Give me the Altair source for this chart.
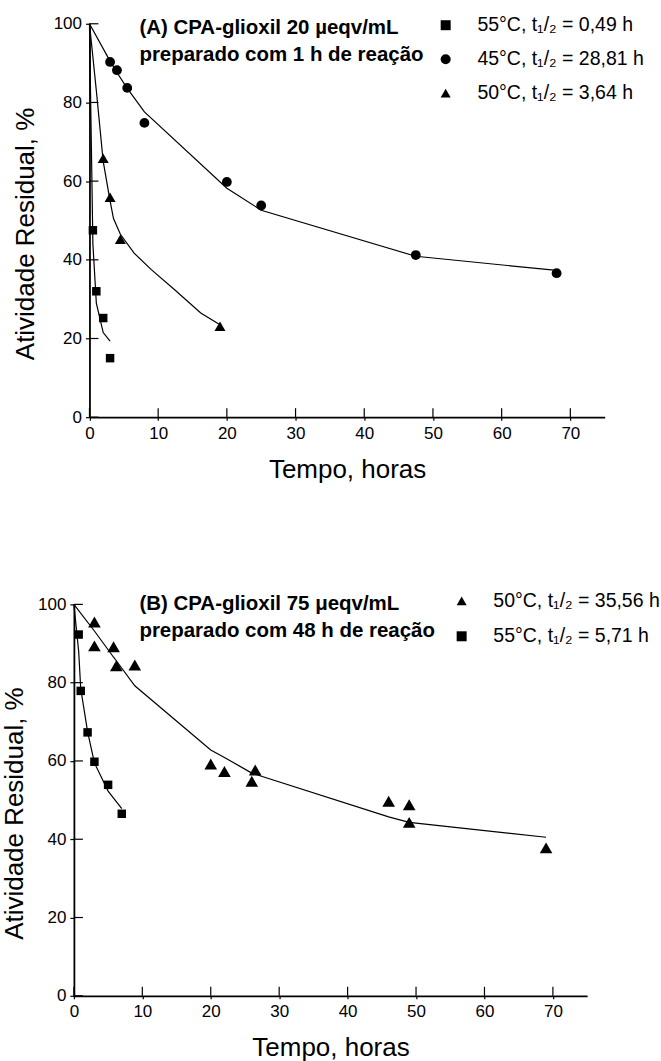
import altair as alt
import pandas as pd

FONT = "Liberation Sans, Arial, Helvetica, sans-serif"

# ---------------- Panel A data ----------------
A_LABELS = ["55°C, t₁/₂ = 0,49 h", "45°C, t₁/₂ = 28,81 h", "50°C, t₁/₂ = 3,64 h"]
A_SHAPES = ["square", "circle", "triangle-up"]
A_TITLE = ["(A) CPA-glioxil 20 µeqv/mL", "preparado com 1 h de reação"]

A55_T = [0.5, 1, 2, 3]
A55_V = [47.5, 32.0, 25.2, 15.0]
A45_T = [3, 4, 5.5, 8, 20, 25, 47.5, 68]
A45_V = [90.3, 88.2, 83.7, 74.8, 59.8, 53.8, 41.2, 36.6]
A50_T = [2, 3, 4.5, 19]
A50_V = [65.8, 55.9, 45.2, 23.1]

A55_FIT_T = [0, 0.5, 1, 2, 3]
A55_FIT_V = [100, 44, 29, 21.5, 19.3]
A45_FIT_T = [0, 3, 4, 5.5, 8, 20, 25, 47.5, 68]
A45_FIT_V = [100, 90.5, 87.6, 83.6, 77.6, 58.2, 52.6, 40.9, 37.3]
A50_FIT_T = [0, 1, 2, 3, 3.5, 4.5, 6.5, 9, 12.4, 16.2, 19]
A50_FIT_V = [100, 83, 65, 55, 50.5, 46.5, 41.7, 37.5, 32.4, 26.5, 23.5]

# ---------------- Panel B data ----------------
B_LABELS = ["50°C, t₁/₂ = 35,56 h", "55°C, t₁/₂ = 5,71 h"]
B_SHAPES = ["triangle-up", "square"]
B_TITLE = ["(B) CPA-glioxil 75 μeqv/mL", "preparado com 48 h de reação"]

B50_T = [3, 3, 5.8, 6.2, 8.9, 20, 22, 26, 26.5, 46, 49, 49, 69]
B50_V = [95.5, 89.4, 89.2, 84.3, 84.5, 59.2, 57.3, 54.8, 57.7, 49.7, 48.8, 44.3, 37.8]
B55_T = [0.7, 1, 2, 3, 5, 7]
B55_V = [92.3, 77.9, 67.3, 59.8, 53.9, 46.5]

B50_FIT_T = [0, 3, 5.8, 6.2, 8.9, 20, 22, 26, 26.5, 46, 49, 69]
B50_FIT_V = [100, 93.2, 86.5, 85.6, 79.2, 62.8, 60.9, 56.9, 56.6, 45.7, 44.3, 40.5]
B55_FIT_T = [0, 0.7, 1, 2, 3, 5, 7]
B55_FIT_V = [100, 88, 78.5, 67.5, 59.5, 52.3, 47.8]

# ---------------- axis ticks ----------------
X_TICKS = [0, 5, 10, 15, 20, 25, 30, 35, 40, 45, 50, 55, 60, 65, 70, 75]
X_MAJOR = [0, 10, 20, 30, 40, 50, 60, 70]
Y_TICKS = [0, 10, 20, 30, 40, 50, 60, 70, 80, 90, 100]
Y_MAJOR = [0, 20, 40, 60, 80, 100]

SYMBOL_SIZE = {"square": 72, "circle": 121, "triangle-up": 160}


def frame(series_list):
    rows = []
    for label, shape, ts, vs in series_list:
        for t, v in zip(ts, vs):
            rows.append({"series": label, "mk": shape, "t": t, "v": v})
    return pd.DataFrame(rows)


def panel(points, fits, labels, shapes, legend, y_title_pad, w, h, shift):
    xs = alt.Scale(domain=[0, 75], nice=False, zero=False, range=[shift, w])
    ys = alt.Scale(domain=[0, 100], nice=False)
    x_axis = alt.Axis(values=X_TICKS, labelExpr="datum.value % 10 == 0 ? datum.label : ''",
                      tickSize=3, labelPadding=5, titlePadding=15, labelFlush=False,
                      labelOverlap=False)
    y_axis = alt.Axis(values=Y_TICKS, labelExpr="datum.value % 20 == 0 ? datum.label : ''",
                      tickSize=4, labelPadding=4, titlePadding=y_title_pad, labelFlush=False,
                      labelOverlap=False, titleY=h / 2 + 13, offset=-shift)
    x_enc = alt.X("t:Q", scale=xs, axis=x_axis, title="Tempo, horas")
    y_enc = alt.Y("v:Q", scale=ys, axis=y_axis, title="Atividade Residual, %")

    fit_df = frame(fits)
    pts_df = frame(points)

    lines = alt.Chart(fit_df).mark_line(color="black", strokeWidth=1.2).encode(
        x=x_enc, y=y_enc, detail="series:N")

    pts = alt.Chart(pts_df).mark_point(filled=True, opacity=1, color="black").encode(
        x=x_enc, y=y_enc,
        shape=alt.Shape("series:N", scale=alt.Scale(domain=labels, range=shapes),
                        legend=legend),
        size=alt.Size("mk:N", scale=alt.Scale(domain=shapes,
                      range=[SYMBOL_SIZE[s] for s in shapes]), legend=None),
    )

    xt = alt.Chart(pd.DataFrame({"t": X_MAJOR})).mark_rule(
        color="black", strokeWidth=1.2, y2Offset=-9).encode(
        x=x_enc, y=alt.datum(0), y2=alt.datum(0))
    yt = alt.Chart(pd.DataFrame({"v": Y_MAJOR})).mark_rule(
        color="black", strokeWidth=1.2, x2Offset=9).encode(
        y=y_enc, x=alt.datum(0), x2=alt.datum(0))

    return alt.layer(lines, xt, yt, pts).properties(width=w, height=h)


def make_legend(title_lines, legend_x, legend_y, title_pad, row_pad):
    return alt.Legend(
        title=title_lines, titleOrient="left", titleAnchor="start",
        titleAlign="left", titleBaseline="line-top", titleFont=FONT,
        titleFontSize=20.5, titleFontWeight="bold", titleColor="black",
        titleLimit=1000, titleLineHeight=27, titlePadding=title_pad,
        orient="none", legendX=legend_x, legendY=legend_y,
        labelFont=FONT, labelFontSize=19.5, labelColor="black",
        labelLimit=1000, labelOffset=22,
        symbolSize=100, symbolFillColor="black", symbolStrokeWidth=0,
        rowPadding=row_pad, padding=0, offset=0)


SHIFT_A = 15.6

panel_a = panel(
    points=[(A_LABELS[0], "square", A55_T, A55_V),
            (A_LABELS[1], "circle", A45_T, A45_V),
            (A_LABELS[2], "triangle-up", A50_T, A50_V)],
    fits=[("a55", "square", A55_FIT_T, A55_FIT_V),
          ("a45", "circle", A45_FIT_T, A45_FIT_V),
          ("a50", "triangle-up", A50_FIT_T, A50_FIT_V)],
    labels=A_LABELS, shapes=A_SHAPES,
    legend=make_legend(A_TITLE, 65.6, -8.3, 12, 13),
    y_title_pad=15, w=516 + SHIFT_A, h=394, shift=SHIFT_A)

panel_b = panel(
    points=[(B_LABELS[0], "triangle-up", B50_T, B50_V),
            (B_LABELS[1], "square", B55_T, B55_V)],
    fits=[("b50", "triangle-up", B50_FIT_T, B50_FIT_V),
          ("b55", "square", B55_FIT_T, B55_FIT_V)],
    labels=B_LABELS, shapes=B_SHAPES,
    legend=make_legend(B_TITLE, 65.6, -13.3, 16, 14.5),
    y_title_pad=10, w=514, h=392, shift=0)

chart = alt.vconcat(panel_a, panel_b, spacing=108.5).resolve_scale(
    x="independent", y="independent", shape="independent", size="independent"
).resolve_legend(shape="independent").properties(
    padding={"left": 1, "top": 14, "right": 0, "bottom": 0}
).configure_view(stroke=None).configure_axis(
    domainColor="black", domainWidth=1.8, tickColor="black", tickWidth=1.2,
    labelFont=FONT, labelFontSize=17, labelColor="black",
    titleFont=FONT, titleFontSize=26, titleFontWeight="normal", titleColor="black",
    grid=False)

chart.save("out.html", embed_options={"renderer": "svg", "actions": False})
